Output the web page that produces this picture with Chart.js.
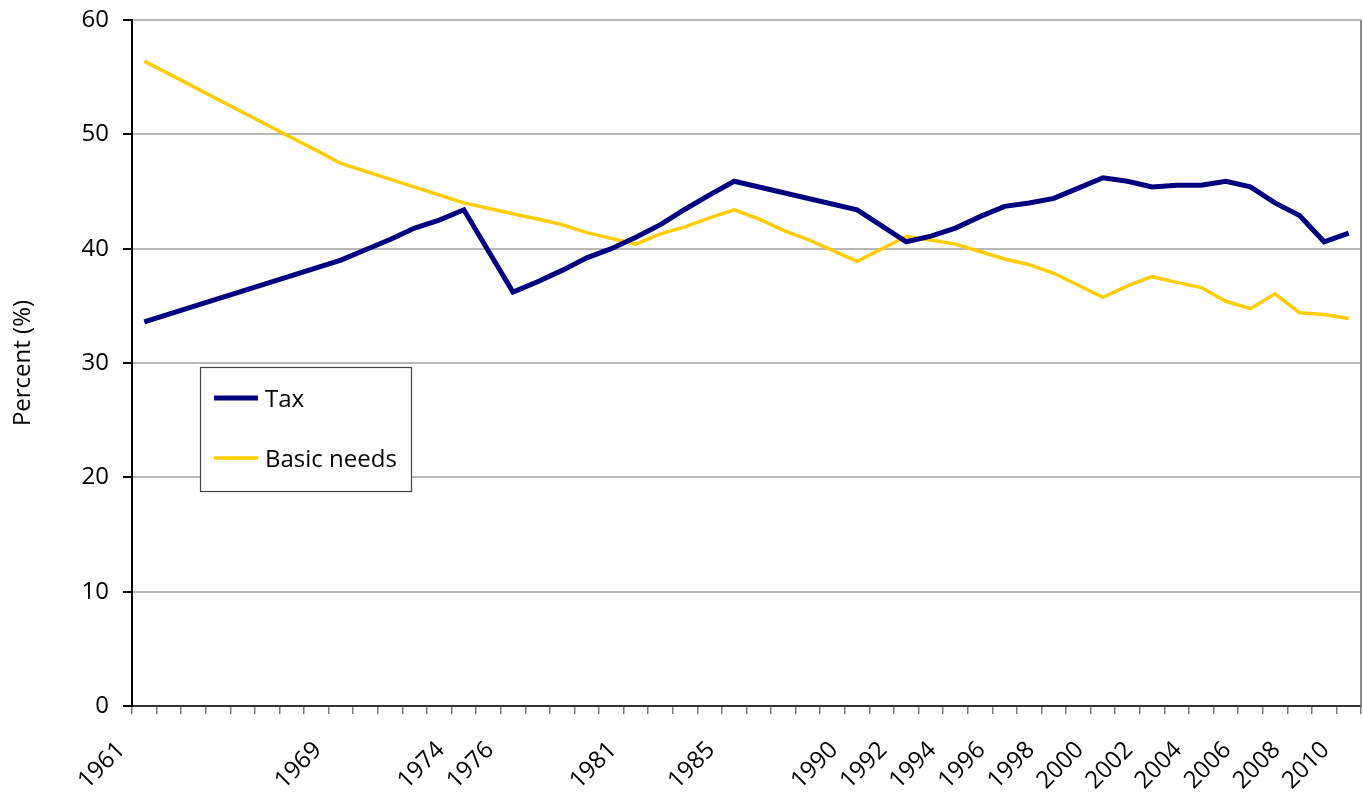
<!DOCTYPE html>
<html>
<head>
<meta charset="utf-8">
<style>
html,body{margin:0;padding:0;background:#fff;}
#wrap{position:relative;width:1363px;height:794px;}
</style>
<script src="https://cdn.jsdelivr.net/npm/chart.js@4.4.1/dist/chart.umd.min.js"></script>
</head>
<body>
<div id="wrap"><canvas id="c" width="1363" height="794"></canvas></div>
<script>
// ---- data ----
const years = ['1961','1962','1963','1964','1965','1966','1967','1968','1969','1970',
  '1971','1972','1973','1974','1975','1976','1977','1978','1979','1980',
  '1981','1982','1983','1984','1985','1986','1987','1988','1989','1990',
  '1991','1992','1993','1994','1995','1996','1997','1998','1999','2000',
  '2001','2002','2003','2004','2005','2006','2007','2008','2009','2010'];
const shownYears = ['1961','1969','1974','1976','1981','1985','1990','1992','1994','1996',
  '1998','2000','2002','2004','2006','2008','2010'];
const taxValues = [33.6,null,null,null,null,null,null,null,39.0,39.9,
  40.8,41.8,42.5,43.4,null,36.2,37.1,38.1,39.2,40.0,
  41.0,42.1,43.45,44.7,45.9,null,null,null,null,43.4,
  null,40.6,41.1,41.8,42.8,43.7,44.0,44.4,45.3,46.2,
  45.9,45.4,45.55,45.55,45.9,45.4,44.0,42.9,40.6,41.35];
const basicNeedsValues = [56.4,null,null,null,null,null,49.7,48.6,47.45,null,
  null,null,null,44.0,null,43.05,42.6,42.1,41.4,40.9,
  40.4,41.3,41.9,42.7,43.4,42.6,41.6,40.8,39.85,38.9,
  null,41.06,40.75,40.4,39.75,39.1,38.6,37.85,36.8,35.75,
  36.75,37.55,37.05,36.6,35.4,34.75,36.05,34.4,34.25,33.9];
const yTicks = [0,10,20,30,40,50,60];
const seriesNames = ['Tax','Basic needs'];
const yTitle = 'Percent (%)';

const FONT = "'Open Sans', 'DejaVu Sans', sans-serif";

const legendBoxPlugin = {
  id: 'legendBox',
  afterDraw(chart, args, opts) {
    const ctx = chart.ctx;
    ctx.save();
    ctx.fillStyle = '#fff';
    ctx.fillRect(opts.x, opts.y, opts.w, opts.h);
    ctx.strokeStyle = '#444';
    ctx.lineWidth = 1.2;
    ctx.strokeRect(opts.x + 0.5, opts.y + 0.5, opts.w, opts.h);
    chart.data.datasets.forEach((ds, i) => {
      const cy = opts.y + opts.firstRow + i * opts.rowGap;
      ctx.strokeStyle = ds.borderColor;
      ctx.lineWidth = ds.borderWidth;
      ctx.beginPath();
      ctx.moveTo(opts.x + 14, cy);
      ctx.lineTo(opts.x + 58, cy);
      ctx.stroke();
      ctx.fillStyle = '#000';
      ctx.font = opts.fontSize + 'px ' + FONT;
      ctx.textBaseline = 'middle';
      ctx.textAlign = 'left';
      ctx.fillText(ds.label, opts.x + 65, cy + 2);
    });
    ctx.restore();
  }
};

const rightBorderPlugin = {
  id: 'rightBorder',
  afterDraw(chart) {
    const a = chart.chartArea, ctx = chart.ctx;
    ctx.save();
    ctx.strokeStyle = '#8c8c8c';
    ctx.lineWidth = 2;
    ctx.beginPath();
    ctx.moveTo(a.right, a.top);
    ctx.lineTo(a.right, a.bottom);
    ctx.stroke();
    ctx.restore();
  }
};

new Chart(document.getElementById('c'), {
  type: 'line',
  data: {
    labels: years,
    datasets: [
      { label: seriesNames[0], data: taxValues, borderColor: '#000080', backgroundColor: '#000080',
        borderWidth: 5, pointRadius: 0, spanGaps: true, tension: 0, borderJoinStyle: 'miter', borderCapStyle: 'butt' },
      { label: seriesNames[1], data: basicNeedsValues, borderColor: '#FFCC00', backgroundColor: '#FFCC00',
        borderWidth: 3.5, pointRadius: 0, spanGaps: true, tension: 0, borderJoinStyle: 'miter', borderCapStyle: 'butt' }
    ]
  },
  options: {
    responsive: false,
    animation: false,
    devicePixelRatio: 1,
    layout: { padding: { top: 20, right: 2, left: 0, bottom: 0 } },
    plugins: {
      legend: { display: false },
      tooltip: { enabled: false },
      legendBox: { x: 200, y: 367, w: 211, h: 124, firstRow: 31, rowGap: 60, fontSize: 24 }
    },
    scales: {
      x: {
        type: 'category',
        offset: true,
        grid: { offset: true, drawOnChartArea: false, drawTicks: true, tickLength: 8, color: '#7a7a7a', lineWidth: 1.5 },
        border: { color: '#333', width: 2 },
        ticks: {
          autoSkip: false, maxRotation: 45, minRotation: 45, labelOffset: -23, padding: 22,
          color: '#000', font: { family: FONT, size: 24 },
          callback: function (v) { const y = this.getLabelForValue(v); return shownYears.includes(y) ? y : ''; }
        },
        afterFit(s) { s.height = 88; s.paddingLeft = 0; s.paddingRight = 0; }
      },
      y: {
        min: 0, max: 60,
        afterBuildTicks(s) { s.ticks = yTicks.map(v => ({ value: v })); },
        grid: { color: '#b8b8b8', lineWidth: 2, tickColor: '#000', tickLength: 9, drawTicks: true },
        border: { color: '#000', width: 2 },
        ticks: { padding: 14, color: '#000', font: { family: FONT, size: 24 } },
        title: { display: true, text: yTitle, color: '#000', font: { family: FONT, size: 24 }, padding: { top: 9, bottom: 0 } },
        afterFit(s) { s.width = 132; s.paddingTop = 0; s.paddingBottom = 0; }
      }
    }
  },
  plugins: [legendBoxPlugin, rightBorderPlugin]
});
</script>
</body>
</html>
